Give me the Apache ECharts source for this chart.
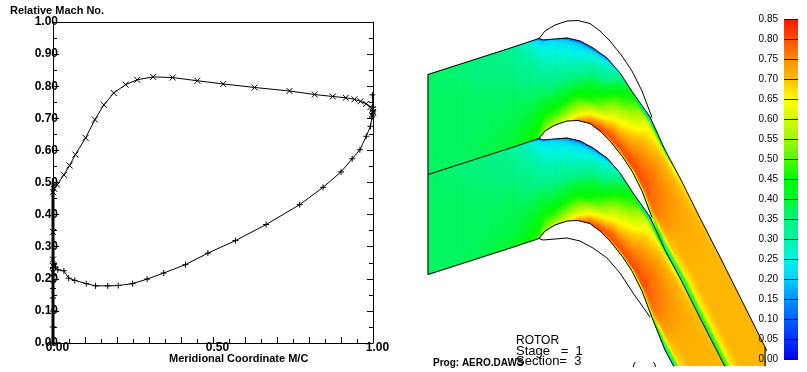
<!DOCTYPE html>
<html><head><meta charset="utf-8">
<style>html,body{margin:0;padding:0;background:#fff}#c{width:807px;height:372px}</style>
<script src="https://cdn.jsdelivr.net/npm/echarts@6/dist/echarts.min.js"></script>
</head><body><div id="c"></div>
<script>
// ---- Left panel: relative Mach number against meridional coordinate
const xMarkedCurve = [[0,0.47],[0.004,0.48],[0.013,0.493],[0.034,0.524],[0.052,0.553],[0.07,0.587],[0.102,0.639],[0.131,0.696],[0.159,0.742],[0.19,0.779],[0.227,0.805],[0.263,0.82],[0.313,0.829],[0.374,0.827],[0.451,0.817],[0.532,0.807],[0.63,0.796],[0.739,0.785],[0.818,0.774],[0.874,0.768],[0.915,0.764],[0.942,0.759],[0.961,0.753],[0.979,0.745],[0.992,0.735],[0.998,0.727],[1,0.72],[1,0.715]];
const xMarkedLeading = [[0,0.346],[0,0.26],[0,0.24],[0,0.22]];
const plusMarkedCurve = [[0.998,0.773],[1,0.735],[1,0.725],[0.998,0.715],[0.997,0.704],[0.992,0.675],[0.979,0.644],[0.959,0.602],[0.935,0.574],[0.9,0.533],[0.844,0.485],[0.771,0.431],[0.666,0.369],[0.57,0.319],[0.484,0.28],[0.414,0.244],[0.346,0.218],[0.294,0.199],[0.249,0.185],[0.204,0.179],[0.171,0.178],[0.133,0.178],[0.104,0.185],[0.068,0.195],[0.049,0.202],[0.034,0.225],[0.015,0.228],[0.008,0.237],[0.003,0.244],[0,0.235],[0,0.21],[0,0.19],[0,0.17],[0,0.14],[0,0.1],[0,0.05],[0,0]];
const leadingEdgeLine = [[0,0],[0,0.5]];
const xTickLabels = [0,0.5,1];

// ---- Right panel: one blade passage, repeated at bladePitch. Streamwise stations.
const bladePitch = 100;
const edgeAX = [428,456,484,512,530,539,543,555,567,580,593,607,620,633,650,665,680,700,720,740,765,790];
const edgeAY = [74.5,65.5,56.5,47.5,41.5,38.5,40,39,38,41,48,58,73,93,117,150,178,218,257,297,347,397];
const edgeBX = [428,456,484,512,530,539,545,555,567,578,590,600,610,622,632,642,652,665,680,700,720,740];
const edgeBY = [174.5,165.5,156.5,147.5,141.5,138.5,131,125,121,120.5,123.5,131,141,156,171,191,217.5,250,278,318,357,397];
const pitchFractions = [0,0.03,0.08,0.15,0.3,0.5,0.7,0.88,0.96,1];
const machAcross = [
 [.37,.37,.37,.37,.37,.37,.37,.37,.37,.37],
 [.36,.36,.36,.36,.37,.37,.37,.37,.37,.37],
 [.35,.35,.35,.35,.36,.37,.37,.38,.38,.38],
 [.33,.33,.33,.34,.35,.37,.38,.39,.40,.40],
 [.27,.27,.28,.30,.33,.36,.39,.42,.44,.45],
 [.10,.22,.25,.27,.31,.36,.40,.44,.47,.50],
 [.15,.21,.24,.26,.30,.35,.41,.48,.52,.55],
 [.18,.22,.24,.25,.29,.34,.40,.48,.54,.58],
 [.10,.19,.23,.25,.29,.35,.42,.52,.58,.62],
 [.08,.18,.22,.24,.29,.37,.46,.58,.68,.74],
 [.10,.18,.23,.27,.33,.41,.47,.65,.75,.80],
 [.12,.20,.25,.28,.34,.44,.54,.72,.80,.80],
 [.26,.30,.34,.38,.44,.54,.66,.78,.81,.70],
 [.42,.44,.46,.48,.54,.64,.72,.79,.80,.60],
 [.10,.25,.58,.63,.67,.72,.76,.80,.80,.50],
 [.35,.50,.66,.70,.73,.76,.78,.80,.78,.45],
 [.62,.66,.69,.71,.73,.75,.76,.77,.72,.42],
 [.69,.70,.71,.71,.72,.72,.72,.69,.45,.15],
 [.70,.70,.71,.71,.71,.71,.71,.66,.42,.25],
 [.71,.71,.71,.71,.71,.71,.71,.66,.44,.33],
 [.71,.71,.71,.71,.71,.71,.71,.66,.46,.38],
 [.71,.71,.71,.71,.71,.71,.71,.66,.46,.38]
];
// ---- Colour scale
const scaleValues = [0,.05,.1,.15,.2,.25,.3,.35,.4,.45,.5,.55,.6,.65,.7,.75,.8,.85];
const scaleColors = ['#0000f0','#0030ff','#0060ff','#0090ff','#00d0ff','#00f4e4','#00f4a8','#00f480','#00f830','#00fa00','#50fa00','#a0f800','#d0fa00','#ffff00','#ffc000','#ff8c00','#ff5000','#ff1500'];

const hex = c => [1,3,5].map(i => parseInt(c.substr(i,2),16));
function machColor(v){
  let k = Math.min(scaleValues.length-2, Math.max(0, Math.floor(v/0.05+1e-6)));
  const t = Math.min(1,Math.max(0,(v-scaleValues[k])/(scaleValues[k+1]-scaleValues[k])));
  const a = hex(scaleColors[k]), b = hex(scaleColors[k+1]);
  return 'rgb('+a.map((x,i)=>Math.round(x+(b[i]-x)*t)).join(',')+')';
}
const lerp = (a,b,t)=>a+(b-a)*t;
function renderCell(params, api){
  const i = api.value(0), off = api.value(1), kids = [];
  const node=(t,f)=>{
    const ax=lerp(edgeAX[i],edgeAX[i+1],t), ay=lerp(edgeAY[i],edgeAY[i+1],t)+off;
    const bx=lerp(edgeBX[i],edgeBX[i+1],t), by=lerp(edgeBY[i],edgeBY[i+1],t)+off;
    return api.coord([lerp(ax,bx,f),lerp(ay,by,f)]);
  };
  const len=Math.max(Math.hypot(edgeAX[i+1]-edgeAX[i],edgeAY[i+1]-edgeAY[i]),Math.hypot(edgeBX[i+1]-edgeBX[i],edgeBY[i+1]-edgeBY[i]));
  const subS=Math.max(2,Math.ceil(len/3));
  const wid=Math.hypot(edgeAX[i]-edgeBX[i],edgeAY[i]-edgeBY[i]);
  for(let s=0;s<subS;s++){
    const t0=s/subS,t1=(s+1)/subS,tm=(t0+t1)/2;
    for(let j=0;j<pitchFractions.length-1;j++){
      const f0=pitchFractions[j],f1=pitchFractions[j+1];
      const subP=Math.max(1,Math.ceil((f1-f0)*wid/2.5));
      for(let p=0;p<subP;p++){
        const g0=lerp(f0,f1,p/subP),g1=lerp(f0,f1,(p+1)/subP),u=(p+0.5)/subP;
        const v=lerp(lerp(machAcross[i][j],machAcross[i][j+1],u),lerp(machAcross[i+1][j],machAcross[i+1][j+1],u),tm);
        const c=machColor(v);
        kids.push({type:'polygon',shape:{points:[node(t0,g0),node(t1,g0),node(t1,g1),node(t0,g1)]},style:{fill:c,stroke:c,lineWidth:0.8}});
      }
    }
  }
  return {type:'group',children:kids};
}
const cells=[];
[0,bladePitch].forEach(off=>{ for(let i=0;i<edgeAX.length-1;i++) cells.push([i,off]); });

const edgeLine=(xs,ys,off,from,to)=>xs.slice(from,to).map((x,k)=>[x,ys[from+k]+off]);
const outline=(data)=>({type:'line',xAxisIndex:2,yAxisIndex:2,data,showSymbol:false,symbol:'none',z:4,silent:true,
  lineStyle:{color:'#000',width:1},clip:true,animation:false});
const crossMark='path://M0 0L10 10M10 0L0 10', plusMark='path://M5 0L5 10M0 5L10 5';
const curve=(data,sym,line)=>({type:'line',xAxisIndex:0,yAxisIndex:0,data,symbol:sym,symbolSize:6,showSymbol:true,showAllSymbol:true,clip:false,
  lineStyle:{color:'#000',width:line?1:0,opacity:line?1:0},itemStyle:{color:'none',borderColor:'#000',borderWidth:1},z:5,animation:false});
const LF='"Liberation Sans",Arial,sans-serif';
const txt=(t,x,y,size,weight)=>({type:'text',x,y,z:20,style:{text:t,fill:'#000',font:(weight||'normal')+' '+size+'px '+LF}});
const numFmt=v=>v.toFixed(2);
const tickLine={color:'#000'};

const chart=echarts.init(document.getElementById('c'),null,{renderer:'canvas'});
chart.setOption({
  animation:false,backgroundColor:'#fff',
  grid:[
    {left:53,top:22,width:320,height:321,show:false},
    {left:420,top:0,width:346,height:366,show:false},
    {left:784,top:19.5,width:14,height:340,show:false}
  ],
  xAxis:[
    {gridIndex:0,type:'value',min:0,max:1,interval:0.1,splitLine:{show:false},
     axisLine:{onZero:false,lineStyle:tickLine},
     axisTick:{inside:true,length:6,lineStyle:tickLine},
     minorTick:{show:true,splitNumber:2,length:4,lineStyle:tickLine},minorSplitLine:{show:false},
     axisLabel:{customValues:xTickLabels,formatter:numFmt,color:'#000',fontWeight:'bold',fontSize:12,fontFamily:'Liberation Sans',margin:-1,padding:[0,0,0,9]}},
    {gridIndex:0,type:'value',position:'top',min:0,max:1,axisTick:{show:false},axisLabel:{show:false},splitLine:{show:false},axisLine:{show:true,onZero:false,lineStyle:{color:'#000',width:1}}},
    {gridIndex:1,type:'value',min:420,max:766,show:false},
    {gridIndex:2,type:'value',min:0,max:1,show:false}
  ],
  yAxis:[
    {gridIndex:0,type:'value',min:0,max:1,interval:0.1,splitLine:{show:false},z:6,
     axisLine:{show:true,onZero:false,lineStyle:tickLine},
     axisTick:{inside:true,length:6,lineStyle:tickLine},
     minorTick:{show:true,splitNumber:2,length:4,lineStyle:tickLine},minorSplitLine:{show:false},
     axisLabel:{formatter:numFmt,color:'#000',fontWeight:'bold',fontSize:12,fontFamily:'Liberation Sans',margin:-5,padding:[0,0,3,0]}},
    {gridIndex:0,type:'value',position:'right',min:0,max:1,interval:0.1,splitLine:{show:false},
     axisLine:{show:true,onZero:false,lineStyle:tickLine},
     axisTick:{inside:true,length:6,lineStyle:tickLine},
     minorTick:{show:true,splitNumber:2,length:4,lineStyle:tickLine},axisLabel:{show:false}},
    {gridIndex:1,type:'value',min:0,max:366,inverse:true,show:false},
    {gridIndex:2,type:'value',min:0,max:0.85,interval:0.05,z:8,
     axisLine:{show:false},axisTick:{show:false},
     splitLine:{show:true,lineStyle:{color:'#000',width:1,opacity:0.85}},
     axisLabel:{formatter:numFmt,color:'#000',fontSize:10,fontFamily:'Liberation Sans',margin:6,showMinLabel:true,showMaxLabel:true}}
  ],
  series:[
    {type:'line',xAxisIndex:0,yAxisIndex:0,data:leadingEdgeLine,symbol:'none',clip:false,lineStyle:{color:'#000',width:3},z:5,animation:false},
    curve(xMarkedCurve,crossMark,true),
    curve(xMarkedLeading,crossMark,false),
    curve(plusMarkedCurve,plusMark,true),
    {type:'custom',xAxisIndex:2,yAxisIndex:2,data:cells,renderItem:renderCell,clip:true,z:2,silent:true,animation:false},
    outline(edgeLine(edgeAX,edgeAY,0,0,edgeAX.length)),
    outline(edgeLine(edgeAX,edgeAY,bladePitch,0,edgeAX.length)),
    outline(edgeLine(edgeBX,edgeBY,0,5,17)),
    outline(edgeLine(edgeBX,edgeBY,bladePitch,0,edgeBX.length)),
    outline(edgeLine(edgeBX,edgeBY,-bladePitch,5,17)),
    outline(edgeLine(edgeAX,edgeAY,2*bladePitch,5,15)),
    outline([[edgeAX[0],edgeAY[0]],[edgeBX[0],edgeBY[0]+bladePitch]]),
    outline([[edgeAX[20],edgeAY[20]],[edgeAX[20],edgeAY[21]]]),
    {type:'custom',xAxisIndex:3,yAxisIndex:3,data:[[0]],z:2,silent:true,animation:false,clip:false,
     renderItem:(p,api)=>{
       const top=scaleValues[scaleValues.length-1];
       const a=api.coord([0,top]),b=api.coord([1,0]);
       const stops=scaleValues.map((v,i)=>({offset:1-v/top,color:scaleColors[i]})).reverse();
       return {type:'rect',shape:{x:a[0],y:a[1],width:b[0]-a[0],height:b[1]-a[1]},
         style:{fill:new echarts.graphic.LinearGradient(0,0,0,1,stops)}};
     }}
  ],
  graphic:[
    txt('Relative Mach No.',10,5,11,'bold'),
    txt('Meridional Coordinate M/C',169,353,11,'bold'),
    txt('ROTOR',516,335,12,'normal'),
    txt('Stage   =  1',516,345,13,'normal'),
    txt('Section=  3',516,355,13,'normal'),
    txt('Prog: AERO.DAWS',433,358,10,'bold'),
    txt('(     )',632,362,12,'normal'),
    {type:'rect',z:21,shape:{x:600,y:367,width:160,height:5},style:{fill:'#fff'}}
  ]
});
</script></body></html>
